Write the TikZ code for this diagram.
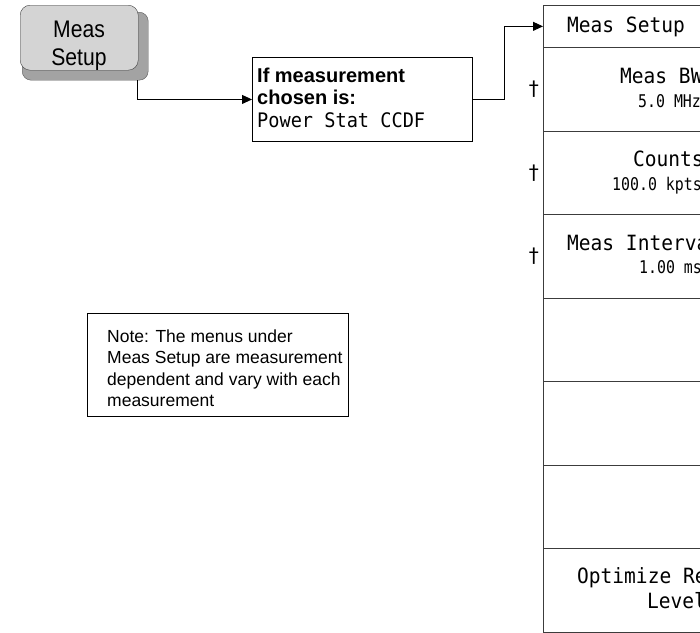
\documentclass[tikz,border=0pt]{standalone}
\usepackage{fontspec}
\setmainfont{Liberation Sans}
\newfontfamily\keyfont[FakeStretch=0.88]{Liberation Sans}
\newfontfamily\menufont[FakeStretch=0.93]{DejaVu Sans Mono}
\newfontfamily\valfont[FakeStretch=0.85]{DejaVu Sans Mono}
\newfontfamily\dagfont{DejaVu Sans}
\usetikzlibrary{arrows.meta,positioning}
\definecolor{keyface}{HTML}{D4D4D4}
\definecolor{keyside}{HTML}{A3A3A3}
\definecolor{rule}{HTML}{3C3C3C}
\tikzset{
  menulbl/.style={font=\menufont\fontsize{21}{24}\selectfont, anchor=base west, inner sep=0pt},
  menuval/.style={font=\valfont\fontsize{17.5}{20}\selectfont, anchor=base west, inner sep=0pt},
  dag/.style={font=\dagfont\fontsize{20}{20}\selectfont, inner sep=0pt},
  menurow/.style={draw=rule, line width=1.2pt, anchor=north west, minimum width=190pt, inner sep=0pt},
  textbox/.style={draw, line width=0.9pt, anchor=north west, inner sep=0pt},
  link/.style={line width=0.9pt, -{Triangle[length=10pt,width=9pt]}},
}
\begin{document}
\begin{tikzpicture}[x=1pt,y=-1pt]
  \useasboundingbox (0,0) rectangle (700,632);
  \clip (0,0) rectangle (700,632);
  % hard key
  \node[draw=black!65, fill=keyside, rounded corners=9pt, anchor=north west,
        minimum width=126pt, minimum height=68pt, inner sep=0pt] (keyshadow) at (22,12) {};
  \node[draw=black!75, fill=keyface, rounded corners=10pt, anchor=north west,
        minimum width=118pt, minimum height=65pt, inner sep=0pt] (key) at (20,5) {};
  % base of a multi-line node is its last line
  \node[font=\keyfont\fontsize{24}{28}\selectfont, align=center, anchor=base, inner sep=0pt]
    (keytxt) at (79,65) {Meas\\Setup};
  % condition box
  \node[textbox, minimum width=220pt, minimum height=84pt] (cond) at (252,57) {};
  \node[anchor=base west, align=left, inner sep=0pt, font=\bfseries\fontsize{20}{22.5}\selectfont]
    (condtxt) at (257,127) {If measurement\\chosen is:\\{\mdseries\menufont Power Stat CCDF}};
  % note
  \node[textbox, minimum width=261pt, minimum height=103pt] (note) at (87,313) {};
  \node[anchor=base west, align=left, inner sep=0pt, font=\fontsize{17.5}{21.5}\selectfont]
    (notetxt) at (107,406.5) {Note: The menus under\\Meas Setup are measurement\\dependent and vary with each\\measurement};
  % menu panel
  \node[menurow, minimum height=42.5pt] (hdr) at (543,4.5) {};
  \foreach \i in {1,...,7}
    \node[menurow, minimum height=83.5pt] (row\i) at (543,{47+83.5*(\i-1)}) {};
  \node[menulbl] (hdrtxt) at (567,32) {Meas Setup};
  \node[menulbl] (bw) at (620,83) {Meas BW};
  \node[menuval] (bwval) at (638,107) {5.0 MHz};
  \node[menulbl] (cnt) at (633,166.5) {Counts};
  \node[menuval] (cntval) at (612,190) {100.0 kpts};
  \node[menulbl] (intv) at (567,250) {Meas Interval};
  \node[menuval] (intvval) at (639,273) {1.00 ms};
  \node[menulbl] (opt) at (577,583) {Optimize Ref};
  \node[menulbl] (optb) at (647,608) {Level};
  \foreach \i in {1,2,3}
    \node[dag, left=4pt of row\i.west] {†};
  % connectors
  \draw[link] ([xshift=-11pt]keyshadow.south east) |- (cond.west);
  \draw[link] (cond.east) -- ++(32,0) |- (hdr.west);
\end{tikzpicture}
\end{document}
